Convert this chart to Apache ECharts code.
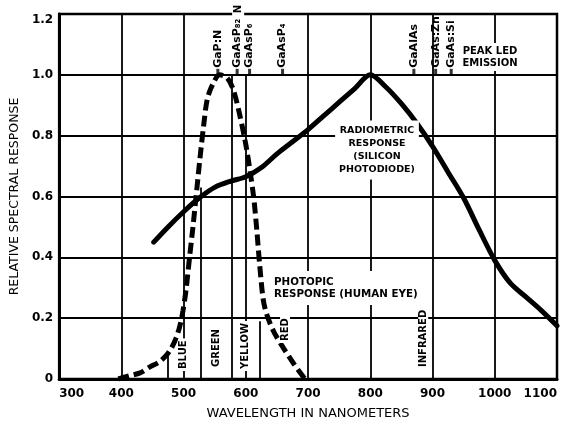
<!DOCTYPE html>
<html><head><meta charset="utf-8">
<script src="https://cdn.jsdelivr.net/npm/echarts@6/dist/echarts.min.js"></script>
<style>html,body{margin:0;padding:0;background:#fff}#c{width:566px;height:425px}</style>
</head><body><div id="c"></div>
<script>
// ---- data ----
const radiometricWl  = [452,475,500,525,550,575,600,625,650,675,700,725,750,775,800,825,850,875,900,925,950,975,1000,1025,1050,1075,1100];
const radiometricVal = [0.45,0.50,0.55,0.595,0.63,0.65,0.665,0.695,0.74,0.78,0.82,0.865,0.91,0.955,1.00,0.96,0.905,0.84,0.765,0.68,0.595,0.49,0.39,0.315,0.27,0.225,0.175];
const photopicWl  = [395,412,430,446,460,471,480,488,494,499,504,509,515,520,526,532,538,547,558,570,580,590,600,607,613,618,622,628,634,645,661,677,695];
const photopicVal = [0,0.01,0.02,0.04,0.055,0.075,0.10,0.135,0.175,0.225,0.295,0.39,0.50,0.60,0.72,0.83,0.92,0.97,1.00,0.99,0.95,0.87,0.77,0.68,0.59,0.48,0.38,0.26,0.21,0.155,0.10,0.05,0];
const xTicks = [300,400,500,600,700,800,900,1000,1100];
const yTicks = [0,0.2,0.4,0.6,0.8,1.0,1.2];
const ledNames = ['GaP:N','GaAsP\u2088\u2082','GaAsP\u2086','GaAsP\u2084','GaAlAs','GaAs:Zn','GaAs:Si'];
const ledWl    = [555,586,606,659,870,905,930];
const bandNames = ['BLUE','GREEN','YELLOW','RED','INFRARED'];
const bandWl    = [500,553,600,663,885];
const bandEdges = [475,527,577,622];
const majorWl   = [400,500,600,700,800,900,1000];

// ---- chart ----
const FONT = 'DejaVu Sans';
const chart = echarts.init(document.getElementById('c'), null, {renderer:'canvas'});
const pair = (a,b) => a.map((v,i)=>[v,b[i]]);

const vTop = {400:1.2,500:1.2,600:1.0,700:1.2,800:1.2,900:1.2,1000:1.2};
const edgeTop = {475:0.09,527:0.63,577:1.0,622:0.19};
const vSegs = majorWl.map(w=>[{coord:[w,0]},{coord:[w,vTop[w]]}])
  .concat(bandEdges.map(w=>[{coord:[w,0]},{coord:[w,edgeTop[w]]}]));

const option = {
  animation:false,
  backgroundColor:'#fff',
  grid:{left:58,right:9,top:14,bottom:45,show:true,borderColor:'#000',borderWidth:2.5},
  xAxis:{type:'value',min:300,max:1100,interval:100,
    axisLine:{show:true,lineStyle:{color:'#000',width:3}},
    axisTick:{show:false},splitLine:{show:false},
    axisLabel:{color:'#000',fontFamily:FONT,fontSize:12,fontWeight:'bold',margin:9,
      alignMinLabel:'left',alignMaxLabel:'right',
      formatter:v=>xTicks.includes(v)?String(v):''},
    name:'WAVELENGTH IN NANOMETERS',nameLocation:'middle',nameGap:28,
    nameTextStyle:{color:'#000',fontFamily:FONT,fontSize:13}},
  yAxis:{type:'value',min:0,max:1.2,interval:0.2,
    axisLine:{show:true,lineStyle:{color:'#000',width:3}},
    axisTick:{show:false},
    splitLine:{show:true,lineStyle:{color:'#000',width:1.8}},
    axisLabel:{color:'#000',fontFamily:FONT,fontSize:12,fontWeight:'bold',margin:6,
      verticalAlignMaxLabel:'top',
      formatter:v=>{const t=yTicks.find(x=>Math.abs(x-v)<1e-6);return t===undefined?'':(t===0?'0':t.toFixed(1));}},
    name:'RELATIVE SPECTRAL RESPONSE',nameLocation:'middle',nameRotate:90,nameGap:36,
    nameTextStyle:{color:'#000',fontFamily:FONT,fontSize:12.5}},
  series:[
    {type:'line',data:[],silent:true,z:1,
      markLine:{silent:true,symbol:'none',label:{show:false},
        lineStyle:{color:'#000',width:1.8,type:'solid'},data:vSegs}},
    {type:'line',name:'Radiometric',data:pair(radiometricWl,radiometricVal),smooth:0.3,
      showSymbol:false,z:3,lineStyle:{color:'#000',width:5,cap:'round',join:'round'}},
    {type:'line',name:'Photopic',data:pair(photopicWl,photopicVal),smooth:0.3,
      showSymbol:false,z:4,lineStyle:{color:'#000',width:5,type:[11,5],cap:'butt'}},
    {type:'scatter',data:ledWl.map(w=>[w,1.0]),symbol:'rect',symbolSize:[3,6],
      symbolOffset:[0,-3],itemStyle:{color:'#000'},z:5,silent:true}
  ]
};
chart.setOption(option);

const px = (x,y)=>chart.convertToPixel({gridIndex:0},[x,y]);
const g = [];
ledNames.forEach((n,i)=>{
  const p = px(ledWl[i],1.0);
  g.push({type:'text',x:p[0],y:p[1]-7,rotation:Math.PI/2,z:100,
    style:{text:n,font:'bold 11px "DejaVu Sans"',align:'left',verticalAlign:'middle',fill:'#000'}});
});
{ const p = px(586,1.2);
  g.push({type:'text',x:p[0]+1,y:p[1]-5,rotation:Math.PI/2,z:100,
    style:{text:'N',font:'bold 10px "DejaVu Sans"',align:'center',verticalAlign:'middle',fill:'#000',
      backgroundColor:'#fff',padding:[1,6]}}); }
const bandBaseOffset = [8,10,8,36,10];
bandNames.forEach((n,i)=>{
  const p = px(bandWl[i],0);
  g.push({type:'text',x:p[0],y:p[1]-bandBaseOffset[i],rotation:Math.PI/2,z:100,
    style:{text:n,font:'bold 10px "DejaVu Sans"',align:'left',verticalAlign:'middle',fill:'#000',
      backgroundColor:'#fff',padding:[0,2]}});
});
g.push({type:'text',x:490,y:57,z:100,
  style:{text:'PEAK LED\nEMISSION',font:'bold 10px "DejaVu Sans"',align:'center',verticalAlign:'middle',
    fill:'#000',lineHeight:12,backgroundColor:'#fff',padding:[2,4]}});
g.push({type:'text',x:377,y:150,z:100,
  style:{text:'RADIOMETRIC\nRESPONSE\n(SILICON\nPHOTODIODE)',font:'bold 9.5px "DejaVu Sans"',align:'center',
    verticalAlign:'middle',fill:'#000',lineHeight:13.3,backgroundColor:'#fff',padding:[3,4]}});
g.push({type:'text',x:271,y:288,z:100,
  style:{text:'PHOTOPIC\nRESPONSE (HUMAN EYE)',font:'bold 10.3px "DejaVu Sans"',align:'left',
    verticalAlign:'middle',fill:'#000',lineHeight:12,backgroundColor:'#fff',padding:[5,3]}});
chart.setOption({graphic:g});
</script></body></html>
